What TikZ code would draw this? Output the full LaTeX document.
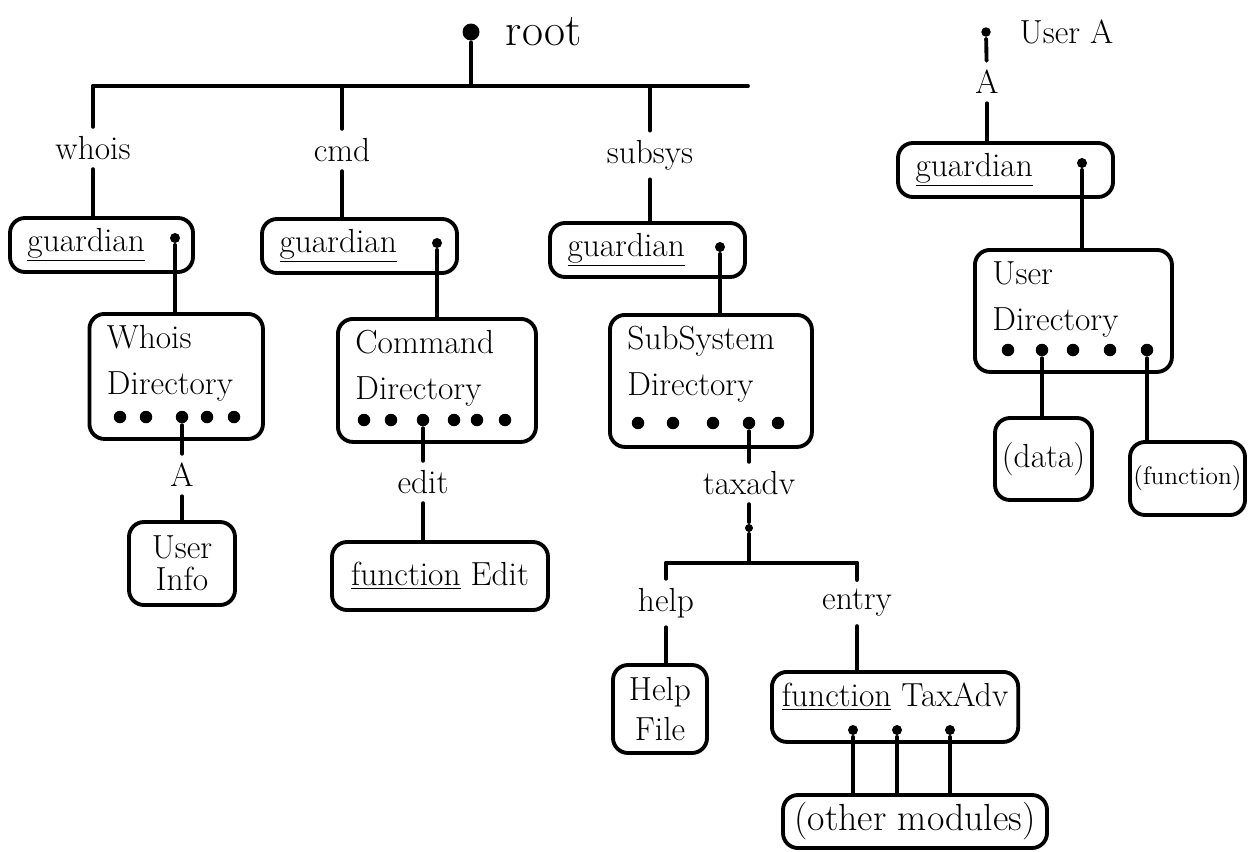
\documentclass[tikz,border=0pt]{standalone}
\usepackage{tikz}
\usetikzlibrary{positioning}

\newcommand{\handsize}{\fontsize{19}{23}\selectfont}

\begin{document}
\begin{tikzpicture}[
    x = 0.2mm, y = -0.2mm, % one unit = one pixel of the sheet
    line width = 2.2pt, % pen stroke
    line cap = round,
    node distance = 3mm
    ]

    \tikzset{
    box/.style = {draw, rounded corners = 3mm, inner sep = 0pt, align = center, font = \handsize},
    guard/.style = {box, align = left, minimum height = 1.08cm},
    dirbox/.style = {draw, rounded corners = 3mm, anchor = north west, align = left,
        inner xsep = 0.35cm, inner ysep = 0pt, text height = 0.7cm, font = \handsize},
    pin/.style = {circle, fill, inner sep = 0pt, minimum size = 2.5mm},
    tag/.style = {font = \handsize, inner sep = 0.15cm}
    }

    \useasboundingbox (0,0) rectangle (1253,851);

    % root and first level
    \node[pin, minimum size = 3.4mm] (root) at (471,32) {};
    \node[tag, font = \fontsize{26}{30}\selectfont] (rootname) [right = 3mm of root] {root};
    \coordinate (barL) at (93,86);
    \coordinate (barR) at (748,86);
    \draw (root) -- (root |- barL);
    \draw (barL) -- (barR);

    \node[tag] (whois) at (93,148) {whois};
    \node[tag] (cmd) at (342,150) {cmd};
    \node[tag] (subsys) at (650,155) {subsys};
    \draw (whois) -- (whois |- barL);
    \draw (cmd) -- (cmd |- barL);
    \draw (subsys) -- (subsys |- barL);

    \node[guard, minimum width = 3.66cm, text width = 2.96cm] (gwho) at (101.5,245) {\underline{guardian}};
    \node[guard, minimum width = 3.9cm, text width = 3.2cm] (gcmd) at (359.5,246) {\underline{guardian}};
    \node[guard, minimum width = 3.9cm, text width = 3.2cm] (gsub) at (647.5,250) {\underline{guardian}};
    \draw (whois) -- (whois |- gwho.north);
    \draw (cmd) -- (cmd |- gcmd.north);
    \draw (subsys) -- (subsys |- gsub.north);

    \node[pin, minimum size = 2mm] (gwhodot) at (175,238) {};
    \node[pin, minimum size = 2mm] (gcmddot) at (437,243) {};
    \node[pin, minimum size = 2mm] (gsubdot) at (720,247) {};

    % directories
    \node[dirbox, text width = 2.77cm, text depth = 1.8cm] (wdir) at (87.5,312) {Whois\\[3pt]Directory};
    \node[dirbox, text width = 3.26cm, text depth = 1.76cm] (cdir) at (336,317) {Command\\[3pt]Directory};
    \node[dirbox, text width = 3.34cm, text depth = 1.94cm] (sdir) at (608,313) {SubSystem\\[3pt]Directory};
    \draw (gwhodot) -- (gwhodot |- wdir.north);
    \draw (gcmddot) -- (gcmddot |- cdir.north);
    \draw (gsubdot) -- (gsubdot |- sdir.north);

    \node[pin] (wd1) at (120,417) {};
    \node[pin] (wd2) at (146,417) {};
    \node[pin] (wd3) at (182,417) {};
    \node[pin] (wd4) at (207,417) {};
    \node[pin] (wd5) at (234,417) {};

    \node[pin] (cd1) at (364,420) {};
    \node[pin] (cd2) at (391,420) {};
    \node[pin] (cd3) at (423,420) {};
    \node[pin] (cd4) at (454,420) {};
    \node[pin] (cd5) at (477,420) {};
    \node[pin] (cd6) at (505,420) {};

    \node[pin] (sd1) at (638,423) {};
    \node[pin] (sd2) at (673,423) {};
    \node[pin] (sd3) at (713,423) {};
    \node[pin] (sd4) at (749,423) {};
    \node[pin] (sd5) at (778,423) {};

    % whois entry
    \node[tag] (keyA) at (182,475) {A};
    \node[box, minimum width = 2.12cm, minimum height = 1.66cm] (uinfo) at (182,563.5) {User\\[-5pt]Info};
    \draw (wd3) -- (keyA);
    \draw (keyA) -- (keyA |- uinfo.north);

    % cmd entry
    \node[tag] (edit) at (423,482) {edit};
    \node[box, minimum width = 4.32cm, minimum height = 1.36cm] (fedit) at (440,576) {\underline{function} Edit};
    \draw (cd3) -- (edit);
    \draw (edit) -- (edit |- fedit.north);

    % subsys entry
    \node[tag] (taxadv) at (749,483) {taxadv};
    \node[pin, minimum size = 1.6mm] (taxdot) at (749,528) {};
    \coordinate (helpT) at (666,563);
    \coordinate (entryT) at (857,563);
    \draw (sd4) -- (taxadv);
    \draw (taxadv) -- (taxdot);
    \draw (taxdot) -- (taxdot |- helpT);
    \draw (helpT) -- (entryT);

    \node[tag] (help) at (666,603) {help};
    \node[tag] (entry) at (857,603) {entry};
    \draw (help) -- (help |- helpT);
    \draw (entry) -- (entry |- entryT);

    \node[box, minimum width = 1.88cm, minimum height = 1.76cm] (hfile) at (660,709) {Help\\File};
    \node[dirbox, minimum width = 4.9cm, text depth = 0.7cm, inner xsep = 0.2cm] (ftax) at (770,670) {\underline{function} TaxAdv};
    \draw (help) -- (help |- hfile.north);
    \draw (entry) -- (entry |- ftax.north);

    \node[pin, minimum size = 2mm] (fd1) at (853,730) {};
    \node[pin, minimum size = 2mm] (fd2) at (897,730) {};
    \node[pin, minimum size = 2mm] (fd3) at (950,730) {};
    \node[box, minimum width = 5.28cm, minimum height = 1.06cm, font = \fontsize{21.5}{25}\selectfont] (others) at (915,821.5) {(other modules)};
    \draw (fd1) -- (fd1 |- others.north);
    \draw (fd2) -- (fd2 |- others.north);
    \draw (fd3) -- (fd3 |- others.north);

    % user A
    \node[pin, minimum size = 1.9mm] (usera) at (986,32) {};
    \node[tag] (useraname) [right = 3.5mm of usera] {User A};
    \node[tag] (keyA2) at (987,82) {A};
    \draw (usera) -- (keyA2);
    \node[guard, minimum width = 4.3cm, text width = 3.6cm] (guser) at (1005.5,170) {\underline{guardian}};
    \draw (keyA2) -- (keyA2 |- guser.north);
    \node[pin, minimum size = 2mm] (guserdot) at (1082,163) {};

    \node[dirbox, text width = 3.24cm, text depth = 1.74cm] (udir) at (973,248) {User\\[3pt]Directory};
    \draw (guserdot) -- (guserdot |- udir.north);

    \node[pin] (ud1) at (1008,350) {};
    \node[pin] (ud2) at (1042,350) {};
    \node[pin] (ud3) at (1073,350) {};
    \node[pin] (ud4) at (1110,350) {};
    \node[pin] (ud5) at (1147,350) {};

    \node[box, minimum width = 1.94cm, minimum height = 1.64cm] (data) at (1043.5,459) {(data)};
    \node[box, minimum width = 2.3cm, minimum height = 1.46cm, font = \Large] (func) at (1187.5,478.5) {(function)};
    \draw (ud2) -- (ud2 |- data.north);
    \draw (ud5) -- (ud5 |- func.north);
\end{tikzpicture}
\end{document}
